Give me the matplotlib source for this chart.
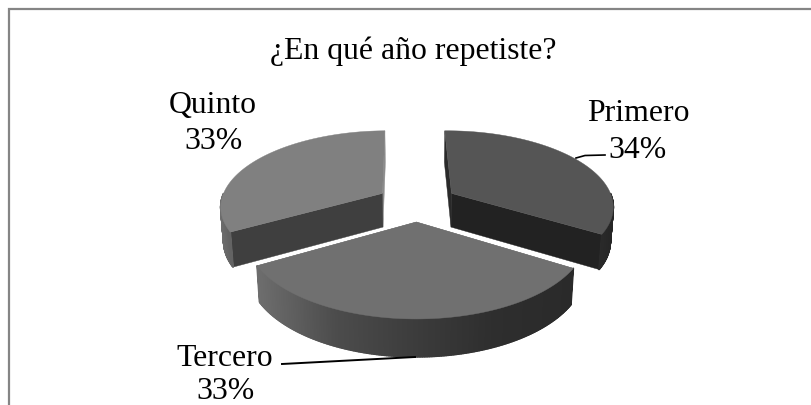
import numpy as np
import matplotlib
matplotlib.use("Agg")
import matplotlib.pyplot as plt
from matplotlib.patches import Polygon

categories = ["Primero", "Tercero", "Quinto"]
values = [34, 33, 33]
title = "¿En qué año repetiste?"

# style per slice: top face, first-edge cut face, last-edge cut face, rim colours (left to right)
top_colors = ["#555555", "#707070", "#808080"]
first_edge = ["#2a2a2a", "#707070", "#3f3f3f"]
last_edge = ["#222222", "#707070", "#8c8c8c"]
rim_stops = [["#2a2a2a", "#262626"],
             ["#6e6e6e", "#4c4c4c", "#3c3c3c", "#2e2e2e", "#2a2a2a"],
             ["#6e6e6e", "#626262"]]

CX, CY, A, B, K, D, SHRINK, EXPLODE, START = 417, 203.5, 162, 75, 0.156, 34, 0.015, 0.25, -0.9
FS = 22.9


def project(X, Y, z=0.0):
    w = 1 - K * Y
    return CX + A * X / w * (1 - SHRINK * z), CY + B * Y / w + D * z / np.sqrt(w)


def hex2g(c):
    return int(c[1:3], 16) / 255


fig = plt.figure(figsize=(8.11, 4.06), dpi=100)
ax = fig.add_axes([0, 0, 1, 1])
ax.set_xlim(0, 811)
ax.set_ylim(406, 0)
ax.axis("off")

# chart frame
ax.plot([9, 9, 811], [406, 9.5, 9.5], color="#858585", lw=1.6, solid_joinstyle="miter", zorder=1)

fracs = np.array(values, dtype=float) / sum(values) * 360
edges = START + np.concatenate([[0], np.cumsum(fracs)])

slices = []
for i in range(len(values)):
    a0, a1 = edges[i], edges[i + 1]
    mid = np.radians((a0 + a1) / 2)
    ox, oy = EXPLODE * np.sin(mid), -EXPLODE * np.cos(mid)
    slices.append((i, a0, a1, ox, oy))

# rear slices first, the front slice on top
for i, a0, a1, ox, oy in sorted(slices, key=lambda s: s[4]):
    base_z = 2 + (oy + 1) * 3
    th = np.radians(np.linspace(a0, a1, 240))
    X, Y = ox + np.sin(th), oy - np.cos(th)

    # cut faces, from apex to rim; the rear-facing one is painted first
    faces = [(a0, first_edge[i]), (a1, last_edge[i])]
    faces.sort(key=lambda f: -np.cos(np.radians(f[0])))
    for ang, col in faces:
        t = np.radians(ang)
        ex, ey = ox + np.sin(t), oy - np.cos(t)
        pts = [project(ox, oy), project(ex, ey), project(ex, ey, 1), project(ox, oy, 1)]
        ax.add_patch(Polygon(pts, closed=True, fc=col, ec=col, lw=0.3, zorder=base_z))

    # outer rim: only the part that faces the viewer
    idx = np.where(-np.cos(th) > 0)[0]
    if len(idx) > 1:
        stops = [hex2g(c) for c in rim_stops[i]]
        xs = project(X[idx], Y[idx])[0]
        xmin, xmax = xs.min(), xs.max()
        order = idx[np.argsort(xs)]
        for j0, j1 in zip(order[:-1], order[1:]):
            p = [project(X[j0], Y[j0]), project(X[j1], Y[j1]),
                 project(X[j1], Y[j1], 1), project(X[j0], Y[j0], 1)]
            f = (project(X[j0], Y[j0])[0] - xmin) / max(xmax - xmin, 1)
            g = np.interp(f, np.linspace(0, 1, len(stops)), stops)
            ax.add_patch(Polygon(p, closed=True, fc=(g, g, g), ec=(g, g, g), lw=1.2,
                                 joinstyle="round", zorder=base_z + 0.1))

    # top face
    tx, ty = project(np.r_[ox, X], np.r_[oy, Y])
    ax.add_patch(Polygon(np.c_[tx, ty], closed=True, fc=top_colors[i], ec=top_colors[i], lw=0.3, zorder=base_z + 0.2))

# leader lines
ax.plot([576, 585, 605], [159, 156.5, 156], color="black", lw=1.2, zorder=12)
ax.plot([282, 415], [365, 358], color="black", lw=1.4, zorder=12)

font = dict(family="Liberation Serif", fontsize=FS, color="black", ha="center", va="baseline", zorder=13)
ax.text(413, 59, title, **font)

label_pos = [(638, 121, 158), (225, 366, 399), (213, 113, 149)]
pct = [f"{round(v / sum(values) * 100)}%" for v in values]
for name, p, (x, y1, y2) in zip(categories, pct, label_pos):
    ax.text(x, y1, name, **font)
    ax.text(x, y2, p, **font)

fig.savefig("out.png", dpi=100, facecolor="white")
